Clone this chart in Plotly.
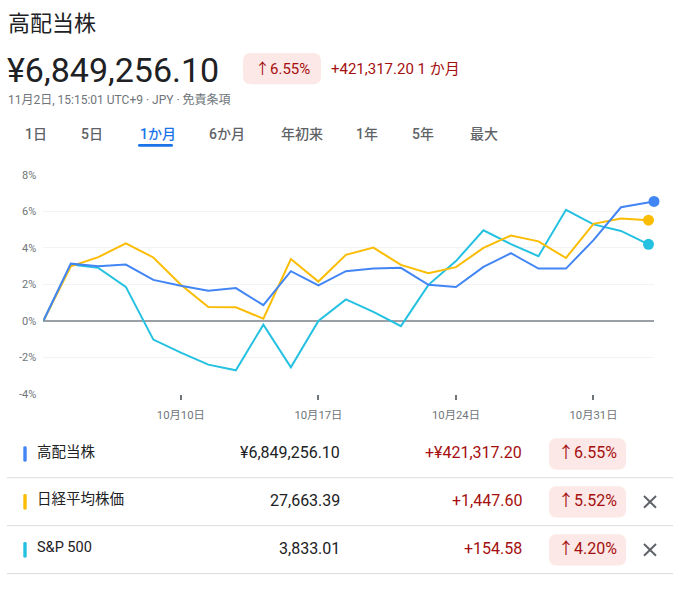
import plotly.graph_objects as go

# ---------------- data ----------------
dates = ["10/3", "10/4", "10/5", "10/6", "10/7", "10/10", "10/11", "10/12", "10/13", "10/14",
         "10/17", "10/18", "10/19", "10/20", "10/21", "10/24", "10/25", "10/26", "10/27", "10/28",
         "10/31", "11/1", "11/2"]
tick_dates = ["10/10", "10/17", "10/24", "10/31"]
tick_labels = ["10月10日", "10月17日", "10月24日", "10月31日"]

series_names = ["高配当株", "日経平均株価", "S&P 500"]
kohaito = [0, 3.14, 3.0, 3.09, 2.25, 1.93, 1.66, 1.8, 0.87, 2.73, 1.95, 2.73, 2.87, 2.91,
           1.98, 1.86, 2.96, 3.71, 2.87, 2.87, 4.43, 6.23, 6.55]
nikkei = [0, 3.0, 3.5, 4.25, 3.48, 1.98, 0.77, 0.75, 0.13, 3.39, 2.16, 3.62, 4.02, 3.07,
          2.62, 2.95, 4.0, 4.68, 4.36, 3.45, 5.32, 5.61, 5.52]
sp500 = [0, 3.09, 2.91, 1.87, -1.02, -1.73, -2.39, -2.70, -0.2, -2.54, 0.0, 1.18, 0.5, -0.28,
         1.98, 3.28, 4.97, 4.21, 3.55, 6.09, 5.29, 4.93, 4.20]
# last quote of the day is later for the portfolio (fraction of a trading day)
last_quote_offset = [0.2, 0.0, 0.0]

y_ticks = [-4, -2, 0, 2, 4, 6, 8]

prices = ["¥6,849,256.10", "27,663.39", "3,833.01"]
changes = ["+¥421,317.20", "+1,447.60", "+154.58"]
pcts = ["6.55%", "5.52%", "4.20%"]
removable = [False, True, True]

header_title = "高配当株"
header_price = "¥6,849,256.10"
header_pct = "6.55%"
header_change = "+421,317.20 1 か月"
header_sub = "11月2日, 15:15:01 UTC+9 · JPY · 免責条項"
tabs = ["1日", "5日", "1か月", "6か月", "年初来", "1年", "5年", "最大"]
active_tab = "1か月"

# ---------------- styles ----------------
W, H = 681, 594
colors = ["#4285f4", "#fbbc04", "#24c1e0"]
RED = "#a50e0e"
PINK = "#fce8e6"
DARK = "#202124"
GREY = "#70757a"
TABGREY = "#5f6368"
BLUE = "#1a73e8"
FONT = "Roboto, 'Noto Sans CJK JP', sans-serif"


def X(p):
    return p / W


def Y(p):
    return 1 - p / H


def rrect_path(x0, y0, x1, y1, r):
    def P(a, b):
        return f"{X(a):.6f},{Y(b):.6f}"
    return (f"M {P(x0 + r, y0)} L {P(x1 - r, y0)} Q {P(x1, y0)} {P(x1, y0 + r)} "
            f"L {P(x1, y1 - r)} Q {P(x1, y1)} {P(x1 - r, y1)} L {P(x0 + r, y1)} "
            f"Q {P(x0, y1)} {P(x0, y1 - r)} L {P(x0, y0 + r)} Q {P(x0, y0)} {P(x0 + r, y0)} Z")


fig = go.Figure()

all_series = [kohaito, nikkei, sp500]
order = [2, 1, 0]  # blue drawn on top
for i in order:
    vals = all_series[i]
    xs = list(range(len(vals)))
    xs[-1] = xs[-1] + last_quote_offset[i]
    fig.add_trace(go.Scatter(x=xs, y=vals, mode="lines", name=series_names[i],
                             line=dict(color=colors[i], width=2), cliponaxis=False,
                             hoverinfo="skip"))
for i in order:
    vals = all_series[i]
    fig.add_trace(go.Scatter(x=[len(vals) - 1 + last_quote_offset[i]], y=[vals[-1]],
                             mode="markers", marker=dict(color=colors[i], size=11),
                             cliponaxis=False, hoverinfo="skip", showlegend=False))

plot_left, plot_right = 43.3, 654.0
plot_top, plot_bottom = 172.7, 396.7

fig.update_layout(
    width=W, height=H,
    margin=dict(l=0, r=0, t=0, b=0, pad=0),
    paper_bgcolor="white", plot_bgcolor="white",
    showlegend=False,
    font=dict(family=FONT),
    xaxis=dict(domain=[X(plot_left), X(plot_right)], range=[0, 22.2],
               tickvals=[dates.index(d) for d in tick_dates], ticktext=tick_labels,
               ticks="outside", ticklen=5, tickwidth=1.5, tickcolor="#70757a",
               ticklabelstandoff=5,
               showgrid=False, zeroline=False, showline=False,
               tickfont=dict(size=11.3, color=GREY, family=FONT), fixedrange=True),
    yaxis=dict(domain=[Y(plot_bottom), Y(plot_top)], range=[-4, 8],
               tickvals=y_ticks, ticktext=[f"{v}%" for v in y_ticks],
               showgrid=True, gridcolor="#f1f3f4", gridwidth=1,
               zeroline=True, zerolinecolor="#9aa0a6", zerolinewidth=1.5,
               showline=False, ticks="", ticklabelstandoff=6,
               tickfont=dict(size=11, color=GREY, family=FONT), fixedrange=True),
)

ann = []
shapes = []


def text(x, y, s, size, color, xanchor="left", weight=None):
    f = dict(size=size, color=color, family=FONT)
    if weight:
        f["weight"] = weight
    ann.append(dict(x=X(x), y=Y(y), xref="paper", yref="paper", text=s, showarrow=False,
                    xanchor=xanchor, yanchor="middle", font=f))


# header
text(6, 18, header_title, 22, DARK)
text(5, 65, header_price, 34, DARK)
shapes.append(dict(type="path", xref="paper", yref="paper", path=rrect_path(243, 48, 321, 80, 8),
                   fillcolor=PINK, line=dict(width=0)))
text(282, 64, "↑" + header_pct, 15, RED, "center")
text(329, 64, header_change, 15, RED)
text(6, 96, header_sub, 12, GREY)

# tabs
tab_x = [23, 79, 138, 207, 279, 354, 410, 468]
for t, tx in zip(tabs, tab_x):
    text(tx, 131, t, 14, BLUE if t == active_tab else TABGREY, "left", 500)
shapes.append(dict(type="path", xref="paper", yref="paper", path=rrect_path(138, 141, 173, 144, 1.5),
                   fillcolor=BLUE, line=dict(width=0)))

# table
row_y = [458, 507, 556]
for i, name in enumerate(series_names):
    cy = row_y[i]
    shapes.append(dict(type="path", xref="paper", yref="paper",
                       path=rrect_path(23.3, cy - 8, 26.7, cy + 8, 1.5),
                       fillcolor=colors[i], line=dict(width=0)))
    text(35, cy - 2, name, 14.5, DARK)
    text(342, cy - 1, prices[i], 16, DARK, "right")
    text(524, cy - 1, changes[i], 16, RED, "right")
    shapes.append(dict(type="path", xref="paper", yref="paper",
                       path=rrect_path(549, cy - 16, 626, cy + 16, 8),
                       fillcolor=PINK, line=dict(width=0)))
    text(587.5, cy - 1, "↑" + pcts[i], 16, RED, "center")
    shapes.append(dict(type="line", xref="paper", yref="paper", x0=X(7), x1=X(673),
                       y0=Y(cy + 24.3), y1=Y(cy + 24.3), line=dict(color="#dadce0", width=1)))
    if removable[i]:
        for (a, b, c, d) in [(644, cy - 6, 656, cy + 6), (644, cy + 6, 656, cy - 6)]:
            shapes.append(dict(type="line", xref="paper", yref="paper", x0=X(a), y0=Y(b),
                               x1=X(c), y1=Y(d), line=dict(color=TABGREY, width=2)))

fig.update_layout(annotations=ann, shapes=shapes)

fig.write_html("out.html", config={"displayModeBar": False})
